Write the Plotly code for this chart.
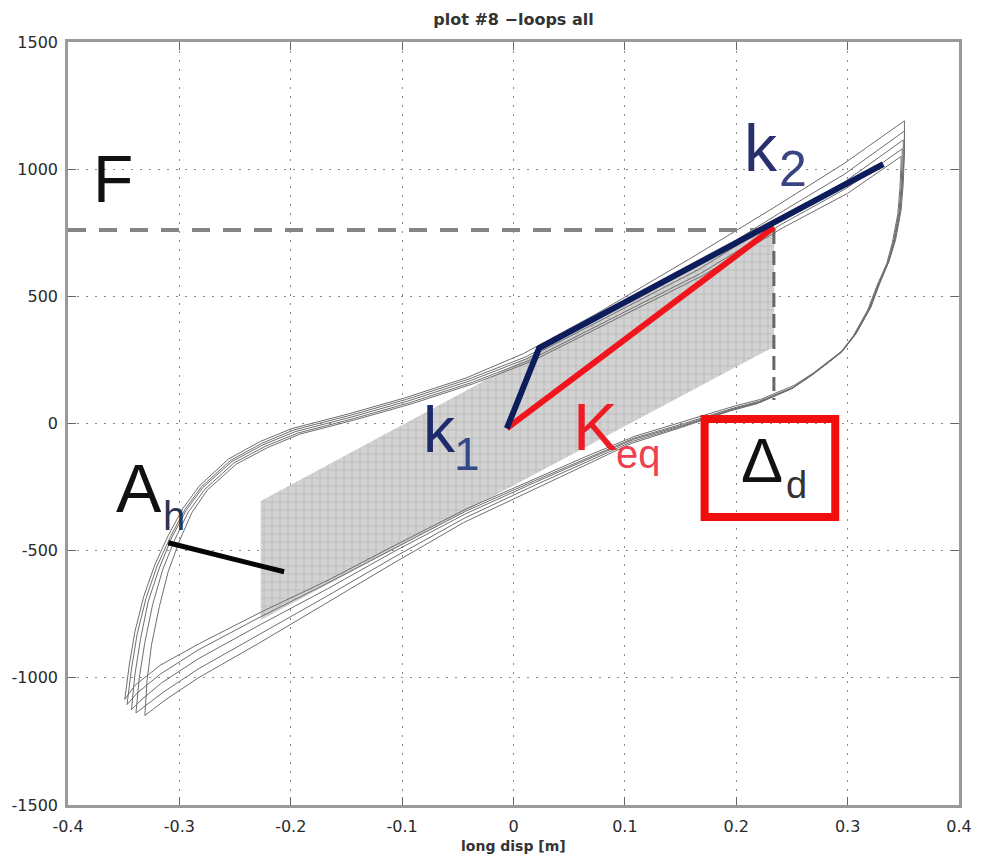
import plotly.graph_objects as go

# ---------------- data ----------------
x_ticks = [-0.4, -0.3, -0.2, -0.1, 0, 0.1, 0.2, 0.3, 0.4]
x_tick_text = ["-0.4", "-0.3", "-0.2", "-0.1", "0", "0.1", "0.2", "0.3", "0.4"]
y_ticks = [-1500, -1000, -500, 0, 500, 1000, 1500]
y_tick_text = ["-1500", "-1000", "-500", "0", "500", "1000", "1500"]

loop1_x = [-0.349, -0.345, -0.340, -0.332, -0.322, -0.310, -0.297, -0.282, -0.256, -0.228, -0.199, -0.148, -0.098, -0.042, 0.009, 0.074, 0.163, 0.236, 0.296, 0.351,
           0.351, 0.350, 0.348, 0.343, 0.3375, 0.329, 0.321, 0.308, 0.296, 0.281, 0.269, 0.252, 0.222, 0.198,
           0.154, 0.109, 0.065, 0.020, -0.042, -0.107, -0.166, -0.226, -0.282, -0.317, -0.340, -0.349]
loop1_y = [-1085, -950, -820, -680, -555, -440, -335, -245, -140, -72, -20, 38, 100, 180, 275, 430, 660, 855, 1020, 1190,
           1075, 945, 839, 721, 643, 552, 458, 356, 289, 238, 198, 150, 95, 68,
           10, -50, -130, -215, -335, -480, -615, -740, -865, -950, -1030, -1085]

loop2_x = [-0.347, -0.343, -0.338, -0.330, -0.320, -0.308, -0.295, -0.280, -0.254, -0.226, -0.197, -0.146, -0.096, -0.040, 0.011, 0.076, 0.165, 0.238, 0.297, 0.351,
           0.351, 0.349, 0.347, 0.342, 0.337, 0.328, 0.320, 0.307, 0.295, 0.280, 0.268, 0.251, 0.221, 0.197,
           0.153, 0.108, 0.064, 0.019, -0.043, -0.108, -0.167, -0.227, -0.283, -0.317, -0.338, -0.347]
loop2_y = [-1105, -965, -830, -688, -560, -445, -338, -248, -145, -78, -25, 33, 95, 175, 262, 412, 625, 825, 980, 1150,
           1060, 940, 835, 718, 640, 550, 455, 352, 285, 232, 193, 142, 88, 60,
           0, -58, -140, -225, -345, -492, -628, -760, -890, -985, -1060, -1105]

loop3_x = [-0.343, -0.340, -0.335, -0.328, -0.318, -0.307, -0.294, -0.279, -0.253, -0.225, -0.196, -0.145, -0.095, -0.039, 0.012, 0.077, 0.166, 0.239, 0.298, 0.350,
           0.350, 0.349, 0.347, 0.342, 0.337, 0.328, 0.320, 0.307, 0.295, 0.280, 0.268, 0.251, 0.221, 0.197,
           0.153, 0.108, 0.064, 0.019, -0.043, -0.108, -0.167, -0.227, -0.283, -0.316, -0.335, -0.343]
loop3_y = [-1125, -990, -850, -700, -568, -450, -342, -252, -150, -84, -32, 26, 88, 168, 255, 402, 605, 805, 952, 1115,
           1050, 935, 830, 715, 636, 546, 452, 350, 282, 230, 190, 140, 85, 57,
           -5, -62, -146, -232, -355, -505, -650, -790, -925, -1020, -1090, -1125]

loop4_x = [-0.339, -0.336, -0.331, -0.324, -0.315, -0.304, -0.292, -0.277, -0.251, -0.223, -0.194, -0.143, -0.093, -0.037, 0.014, 0.079, 0.168, 0.240, 0.299, 0.349,
           0.349, 0.348, 0.346, 0.341, 0.336, 0.327, 0.319, 0.306, 0.294, 0.279, 0.267, 0.250, 0.220, 0.196,
           0.152, 0.107, 0.063, 0.018, -0.044, -0.109, -0.168, -0.228, -0.283, -0.314, -0.332, -0.339]
loop4_y = [-1138, -1000, -860, -712, -575, -455, -348, -258, -155, -90, -38, 20, 82, 162, 248, 392, 590, 782, 925, 1080,
           1040, 930, 826, 712, 632, 542, 449, 347, 279, 228, 188, 138, 82, 54,
           -10, -70, -156, -245, -372, -530, -680, -830, -965, -1055, -1115, -1138]

loop5_x = [-0.331, -0.329, -0.325, -0.318, -0.310, -0.300, -0.289, -0.275, -0.249, -0.221, -0.192, -0.141, -0.091, -0.035, 0.016, 0.081, 0.170, 0.242, 0.300, 0.348,
           0.348, 0.347, 0.345, 0.340, 0.335, 0.326, 0.318, 0.305, 0.293, 0.278, 0.266, 0.249, 0.219, 0.195,
           0.151, 0.106, 0.062, 0.017, -0.045, -0.110, -0.169, -0.229, -0.283, -0.312, -0.327, -0.331]
loop5_y = [-1148, -1010, -870, -720, -582, -462, -352, -262, -160, -95, -42, 16, 78, 158, 244, 386, 582, 770, 905, 1050,
           1030, 925, 822, 708, 628, 538, 446, 344, 276, 225, 185, 135, 78, 50,
           -15, -78, -168, -260, -390, -555, -710, -865, -1000, -1085, -1135, -1148]

loops = [(loop1_x, loop1_y), (loop2_x, loop2_y), (loop3_x, loop3_y), (loop4_x, loop4_y), (loop5_x, loop5_y)]

# hatched area A_h (parallelogram)
area_x = [-0.227, 0.234, 0.234, -0.227, -0.227]
area_y = [-305, 780, 302, -773, -305]

# design force F and design displacement Delta_d
F_level = 761
delta_d = 0.2338
delta_d_low = 92

# bilinear k1/k2 line and equivalent stiffness line
k_x = [-0.006, 0.023, 0.332]
k_y = [-19, 296, 1020]
keq_x = [-0.006, 0.234]
keq_y = [-19, 772]

# leader line for A_h
ah_x = [-0.310, -0.206]
ah_y = [-469, -583]

# red box around Delta_d
box_x = [0.1716, 0.2889]
box_y = [-368, 18]

# ---------------- figure ----------------
fig = go.Figure()

fig.add_trace(go.Scatter(
    x=area_x, y=area_y, mode="lines", fill="toself",
    fillcolor="#cfcfcf",
    fillpattern=dict(shape="+", size=8, solidity=0.18, fgcolor="#9c9c9c", bgcolor="#d2d2d2"),
    line=dict(width=0), hoverinfo="skip"))

for lx, ly in loops:
    fig.add_trace(go.Scatter(x=lx, y=ly, mode="lines",
                             line=dict(color="#6e6e6e", width=1), hoverinfo="skip"))

fig.add_trace(go.Scatter(x=[-0.4, delta_d], y=[F_level, F_level], mode="lines",
                         line=dict(color="#858585", width=4, dash="18px,13px")))
fig.add_trace(go.Scatter(x=[delta_d, delta_d], y=[F_level, delta_d_low], mode="lines",
                         line=dict(color="#666666", width=3, dash="14px,7px")))

fig.add_trace(go.Scatter(x=keq_x, y=keq_y, mode="lines",
                         line=dict(color="#f2141c", width=6)))
fig.add_trace(go.Scatter(x=k_x, y=k_y, mode="lines",
                         line=dict(color="#0d1d5c", width=6)))
fig.add_trace(go.Scatter(x=ah_x, y=ah_y, mode="lines",
                         line=dict(color="#050505", width=5)))

fig.add_shape(type="rect", xref="x", yref="y",
              x0=box_x[0], x1=box_x[1], y0=box_y[0], y1=box_y[1],
              line=dict(color="#f20d0d", width=8), fillcolor="rgba(0,0,0,0)")

FONT = "Liberation Sans, Arial, sans-serif"
AXFONT = "DejaVu Sans, sans-serif"
labels = [
    ("F", -0.3796, 961, 66, "#111111"),
    ("k", 0.2053, 1085, 66, "#27306b"),
    ("2", 0.2364, 1001, 50, "#3a4580"),
    ("k", -0.0827, -26, 64, "#1e2a6b"),
    ("1", -0.0551, -118, 46, "#34488a"),
    ("K", 0.0516, -10, 67, "#ee1c25"),
    ("eq", 0.0898, -120, 40, "#f0404d"),
    ("Δ", 0.2027, -142, 63, "#111111"),
    ("d", 0.2427, -242, 38, "#333333"),
    ("A", -0.3591, -252, 68, "#111111"),
    ("h", -0.3165, -364, 40, "#2a3550"),
]
for txt, lx, ly, sz, col in labels:
    fig.add_annotation(x=lx, y=ly, xref="x", yref="y", text=txt, showarrow=False,
                       xanchor="left", yanchor="middle",
                       font=dict(family=FONT, size=sz, color=col))

fig.add_annotation(x=0.5, y=-0.0537, xref="paper", yref="paper", text="<b>long disp [m]</b>",
                   showarrow=False, xanchor="center", yanchor="middle",
                   font=dict(family=AXFONT, size=14, color="#333333"))

axis_common = dict(showline=True, linecolor="#9a9a9a", linewidth=2.5, mirror="ticks",
                   ticks="inside", ticklen=8, tickcolor="#666666", tickwidth=1,
                   showgrid=True, gridcolor="#8a8a8a", gridwidth=1, griddash="2px,7px",
                   zeroline=False, tickfont=dict(family=AXFONT, size=16, color="#2a2a2a"))

fig.update_xaxes(range=[-0.4, 0.4], tickvals=x_ticks, ticktext=x_tick_text,
                 ticklabelstandoff=5, **axis_common)
fig.update_yaxes(range=[-1500, 1500], tickvals=y_ticks, ticktext=y_tick_text,
                 ticklabelstandoff=4, **axis_common)

fig.update_layout(
    width=984, height=856, autosize=False,
    margin=dict(l=67, r=17, t=42, b=51),
    paper_bgcolor="white", plot_bgcolor="white", showlegend=False,
    title=dict(text="<b>plot #8 −loops all</b>", x=0.5, xref="paper", xanchor="center",
               y=1 - 19 / 856, yref="container", yanchor="middle",
               font=dict(family=AXFONT, size=16, color="#333333")),
)

fig.write_html("out.html")
